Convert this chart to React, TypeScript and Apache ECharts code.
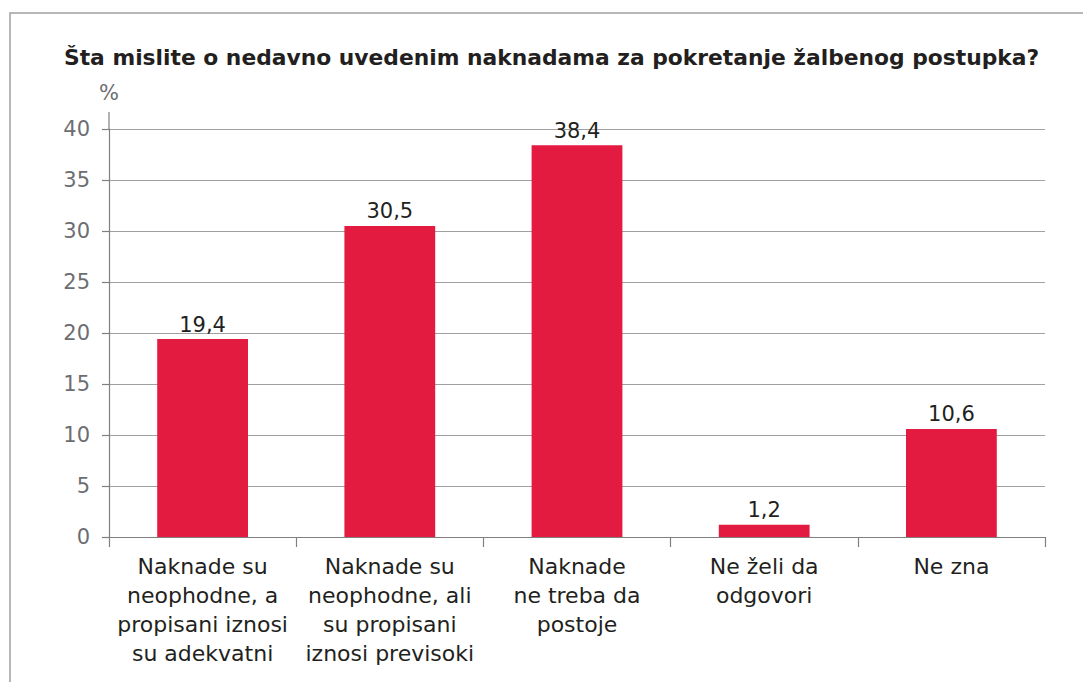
import React, { useEffect, useRef } from "react";
import * as echarts from "echarts";

const title = "Šta mislite o nedavno uvedenim naknadama za pokretanje žalbenog postupka?";
const categories = [
  "Naknade su\nneophodne, a\npropisani iznosi\nsu adekvatni",
  "Naknade su\nneophodne, ali\nsu propisani\niznosi previsoki",
  "Naknade\nne treba da\npostoje",
  "Ne želi da\nodgovori",
  "Ne zna",
];
const values = [19.4, 30.5, 38.4, 1.2, 10.6];
const yMin = 0;
const yMax = 40;
const yStep = 5;

const FONT = "'DejaVu Sans', 'Noto Sans', sans-serif";

export default function App() {
  const ref = useRef<HTMLDivElement>(null);
  useEffect(() => {
    if (!ref.current) return;
    const chart = echarts.init(ref.current, undefined, { renderer: "svg" });
    chart.setOption({
      animation: false,
      backgroundColor: "#ffffff",
      textStyle: { fontFamily: FONT },
      title: {
        text: title,
        left: 59,
        top: 41,
        textStyle: { fontSize: 21.8, fontWeight: "bold", color: "#231f20", fontFamily: FONT },
      },
      graphic: [
        {
          type: "polyline",
          shape: { points: [[10, 690], [10, 13], [1090, 13]] },
          style: { stroke: "#a0a0a0", lineWidth: 1.5, fill: "none" },
          silent: true,
        },
        {
          type: "line",
          shape: { x1: 109, y1: 112, x2: 109, y2: 130 },
          style: { stroke: "#808080", lineWidth: 1.2 },
          silent: true,
        },
      ],
      grid: { left: 109, right: 38, top: 129, bottom: 145 },
      xAxis: {
        type: "category",
        data: categories,
        axisLine: { lineStyle: { color: "#808080", width: 1.2 } },
        axisTick: { show: true, length: 10, lineStyle: { color: "#808080", width: 1.2 } },
        axisLabel: {
          color: "#231f20",
          fontSize: 22,
          lineHeight: 29,
          margin: 15,
          interval: 0,
          fontFamily: FONT,
        },
      },
      yAxis: {
        type: "value",
        min: yMin,
        max: yMax,
        interval: yStep,
        name: "%",
        nameLocation: "end",
        nameGap: 26,
        nameTextStyle: { color: "#6d6e71", fontSize: 21, align: "center", fontFamily: FONT },
        axisLine: { show: true, lineStyle: { color: "#808080", width: 1.2 } },
        axisTick: { show: true, length: 7, lineStyle: { color: "#808080", width: 1.2 } },
        axisLabel: { color: "#6d6e71", fontSize: 21, margin: 19, fontFamily: FONT },
        splitLine: { lineStyle: { color: "#a0a0a0", width: 1 } },
      },
      series: [
        {
          type: "bar",
          data: values,
          barWidth: "48.5%",
          itemStyle: { color: "#e31b41" },
          label: {
            show: true,
            position: "top",
            distance: 4,
            color: "#231f20",
            fontSize: 21,
            fontFamily: FONT,
            formatter: (p: any) => String(p.value).replace(".", ","),
          },
        },
      ],
    });
    return () => chart.dispose();
  }, []);
  return (
    <div
      ref={ref}
      style={{ position: "fixed", left: 0, top: 0, width: 1083, height: 682 }}
    />
  );
}
